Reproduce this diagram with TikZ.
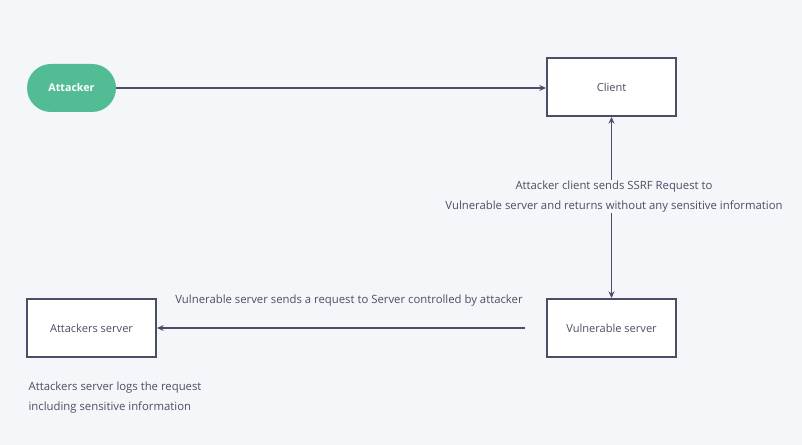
\documentclass[tikz,border=0pt]{standalone}
\usepackage{fontspec}
\setmainfont{Open Sans}
\usetikzlibrary{arrows.meta,shapes.misc}
\definecolor{bg}{HTML}{F5F6FA}
\definecolor{edge}{HTML}{4A4F66}
\definecolor{txt}{HTML}{4A4F63}
\definecolor{pill}{HTML}{52BD94}
\tikzset{
  box/.style={draw=edge,line width=1.5pt,fill=white,minimum width=96.75pt,minimum height=43.5pt,inner sep=0pt,text=txt,font=\fontsize{8.3}{10}\selectfont},
  conn/.style={draw=edge,line width=0.8pt,-{Stealth[length=5pt,width=4.5pt]}},
  lbl/.style={text=txt,font=\fontsize{8.5}{14.5}\selectfont,inner sep=1pt},
}
\begin{document}
\begin{tikzpicture}[x=0.75pt,y=-0.75pt]
\fill[bg] (0,0) rectangle (802,445);
\useasboundingbox (0,0) rectangle (802,445);
\node[rounded rectangle,fill=pill,minimum width=66.75pt,minimum height=36pt,inner sep=0pt,text=white,font=\bfseries\fontsize{8}{9}\selectfont] (attacker) at (71.5,88) {Attacker};
\node[box] (client) at (611.5,87) {\raisebox{-1.5pt}{Client}};
\node[box] (vuln) at (611.5,328) {\raisebox{-1pt}{Vulnerable server}};
\node[box] (asrv) at (91.5,328) {\raisebox{-1pt}{Attackers server}};
\coordinate (vfree) at (525,328);
\draw[conn] (attacker.east) -- (client.west |- attacker.east);
\draw[draw=edge,line width=0.8pt,{Stealth[length=5pt,width=4.5pt]}-{Stealth[length=5pt,width=4.5pt]}] (client.south) -- (vuln.north);
\node[lbl,fill=bg,align=center] (l1) at (614,196.5) {Attacker client sends SSRF Request to\\Vulnerable server and returns without any sensitive information};
\draw[conn] (vfree) -- (asrv.east);
\node[lbl] (l2) at (349,301) {Vulnerable server sends a request to Server controlled by attacker};
\node[lbl,align=left,anchor=north west] (l3) at (27,380.5) {Attackers server logs the request\\including sensitive information};
\end{tikzpicture}
\end{document}
